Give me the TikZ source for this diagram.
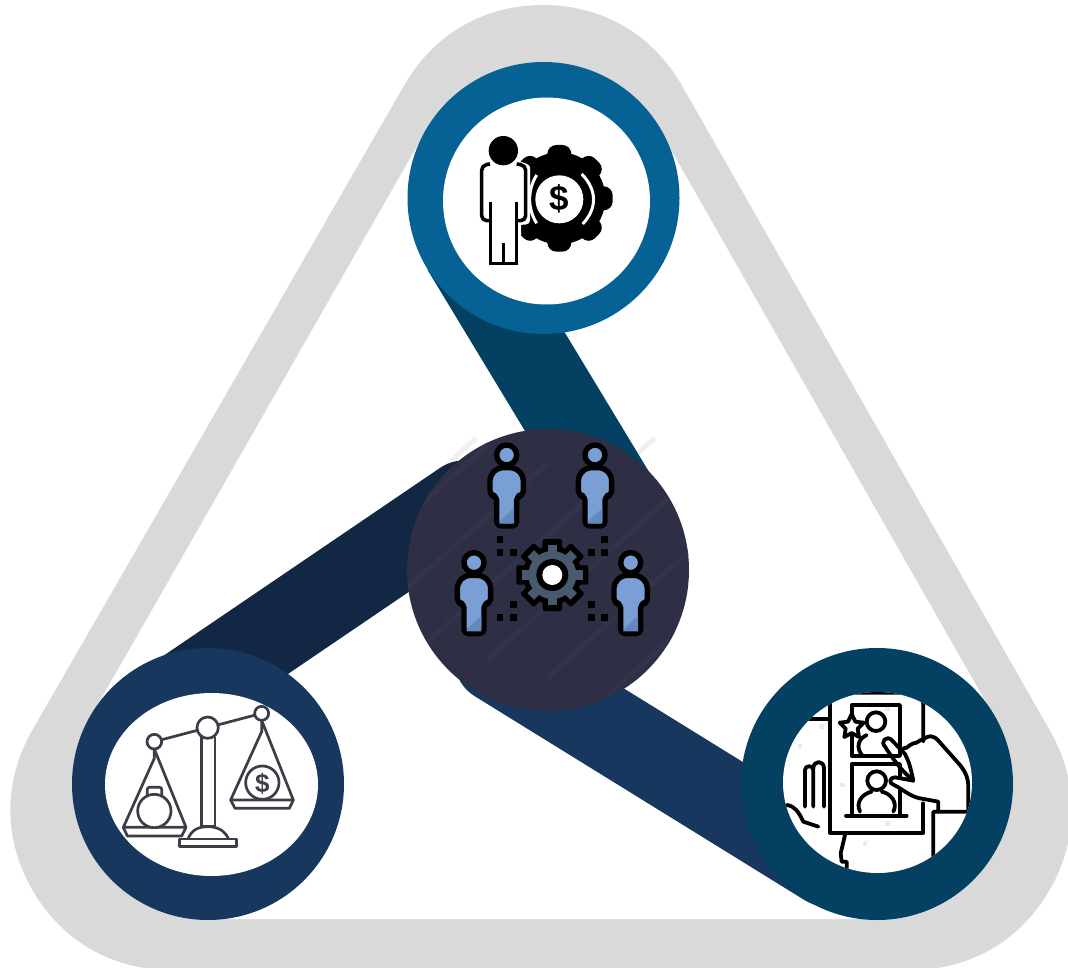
\documentclass[tikz,border=0pt]{standalone}
\usepackage{fontspec}
\setmainfont{Liberation Sans}
\definecolor{graybelt}{HTML}{D9D9D9}
\definecolor{ringtop}{HTML}{066295}
\definecolor{ringleft}{HTML}{17375E}
\definecolor{ringright}{HTML}{044062}
\definecolor{barleft}{HTML}{112744}
\definecolor{hub}{HTML}{2E2E44}
\definecolor{hubstripe}{HTML}{333349}
\definecolor{pblue}{HTML}{7A9FD4}
\definecolor{pblued}{HTML}{6388BC}
\definecolor{geargray}{HTML}{4A5A6E}
\definecolor{scaleink}{HTML}{3F3C47}
\tikzset{
  ring/.style={circle,inner sep=0pt,minimum size=272pt,fill=#1},
  barline/.style={line width=85pt,draw=#1},
  zoomed/.style={x=0.33333pt,y=-0.33333pt},
  personline/.style={draw=black,line width=5.4pt,fill=pblue,rounded corners=4.5pt,line join=round},
  scaleline/.style={draw=scaleink,line width=2.7pt,line join=round},
  phoneline/.style={draw=black,line width=3.8pt,line join=round,line cap=round},
  wm/.style={fill=black!8}
}
\begin{document}
\begin{tikzpicture}[x=1pt,y=-1pt]
\useasboundingbox (0,0) rectangle (1068,968);
\clip (0,0) rectangle (1068,968);
\fill[white] (0,0) rectangle (1068,968);
% belt
\draw[graybelt,fill=graybelt,line width=320pt,line join=round] (543,165) -- (171,810) -- (911,810) -- cycle;
\draw[white,fill=white,line width=270pt,line join=round] (543,198) -- (208,784) -- (877,784) -- cycle;
% faint streaks
\draw[black!6,line width=5pt] (450,462) -- (476,438);
\draw[black!6,line width=5pt] (628,462) -- (655,438);
% named ends of the bars
\coordinate (topend) at (464,248);
\coordinate (tophub) at (620,506);
\coordinate (leftend) at (174,700);
\coordinate (lefthub) at (464,503);
\coordinate (rightend) at (827,864);
\coordinate (righthub) at (497,660);
\draw[barline=ringright] (topend) -- (tophub);
\draw[barline=barleft,line cap=round] (lefthub) -- (leftend);
\draw[barline=ringleft,line cap=round] (righthub) -- (rightend);
% rings
\node[ring=ringtop] (ntop) at (543.5,198) {};
\node[ring=ringleft] (nleft) at (208,784) {};
\node[ring=ringright] (nright) at (877,784) {};
\node[circle,inner sep=0pt,minimum size=282pt,fill=hub] (nhub) at (548,570) {};
\fill[white] (546.5,201) circle (103.5);
\fill[white] (211.5,784.5) ellipse (106.5 and 91.5);
\fill[white] (877.5,782.5) ellipse (94.5 and 90.5);
% hub stripes
\begin{scope}
\clip (548,570) circle (141);
\foreach \d in {-150,-90,-30,30,90,150}
  \draw[hubstripe,line width=5pt] (548+\d-90,570+\d*0.3+80) -- (548+\d+90,570+\d*0.3-80);
\end{scope}
% ---------- top icon
\begin{scope}[shift={(440,100)},zoomed]
  \fill[black] (358,295) circle (138);
  \foreach \a in {0,45,...,315}
    \fill[black,shift={(358,295)},rotate=\a,rounded corners=9pt] (100,-36) rectangle (160,36);
  \draw[white,line width=3pt] (425,222) .. controls (472,270) and (472,325) .. (428,372);
  \draw[white,line width=3pt] (290,225) .. controls (262,270) and (262,325) .. (290,370);
  \fill[white] (358,298) circle (72);
  \node[font=\bfseries\fontsize{35}{35}\selectfont,inner sep=0pt] (dollarone) at (358,296) {\$};
  \path[draw=white,fill=white,line width=9pt,line join=round] (150,195) -- (125,205) -- (125,360) -- (152,362) -- (152,490) -- (230,490) -- (230,362) -- (257,360) -- (257,205) -- (230,195) -- cycle;
  \draw[black,line width=3.6pt,line join=round,rounded corners=5pt] (150,192) -- (125,196) -- (125,362) -- (152,362);
  \draw[black,line width=3.6pt,line join=round,rounded corners=5pt] (230,192) -- (257,196) -- (257,362) -- (230,362);
  \draw[black,line width=3.6pt,line join=miter] (152,305) -- (152,490) -- (230,490) -- (230,305);
  \draw[black,line width=3.6pt] (190,430) -- (190,490);
  \fill[white] (190,152) circle (50);
  \fill[black] (190,152) circle (44);
\end{scope}
% ---------- hub icon
\begin{scope}[shift={(410,430)},zoomed]
  \foreach \hx/\hy in {290/75,555/75,192/398,662/398}{
    \begin{scope}[shift={(\hx,\hy)}]
      \draw[personline] (-26,38) -- (-50,62) -- (-50,122) -- (-30,122) -- (-30,213) -- (30,213) -- (30,122) -- (50,122) -- (50,62) -- (26,38) -- cycle;
      \fill[pblued] (-22,200) -- (22,160) -- (22,206) -- (-22,206) -- cycle;
      \draw[black,line width=5.4pt,fill=pblue] (0,0) circle (30);
    \end{scope}
  }
  \foreach \a in {0,45,...,315}
    \fill[black,shift={(427,435)},rotate=\a,rounded corners=2pt] (60,-29) rectangle (108,29);
  \fill[black] (427,435) circle (88);
  \foreach \a in {0,45,...,315}
    \fill[geargray,shift={(427,435)},rotate=\a] (60,-14) rectangle (91,14);
  \fill[geargray] (427,435) circle (72);
  \fill[black] (427,435) circle (48);
  \fill[white] (427,435) circle (30);
  \foreach \sx/\sy in {270/328,270/367,310/367,584/328,584/367,545/367,310/524,270/563,310/563,545/524,545/563,584/563}
    \fill[black] (\sx-10,\sy-10) rectangle (\sx+10,\sy+10);
\end{scope}
% ---------- scales icon
\begin{scope}[shift={(100,690)},zoomed]
  \draw[scaleline] (163,155) -- (485,70);
  \draw[scaleline,fill=white] (305,140) -- (305,410) -- (345,410) -- (345,140);
  \draw[scaleline,fill=white] (163,155) circle (22);
  \draw[scaleline,fill=white] (323,113) circle (32);
  \draw[scaleline,fill=white] (485,70) circle (21);
  \draw[scaleline] (265,445) .. controls (275,420) and (295,410) .. (323,410) .. controls (352,410) and (372,420) .. (385,445);
  \draw[scaleline,fill=white] (238,447) rectangle (410,470);
  \draw[scaleline] (163,177) -- (163,205) -- (70,412) -- (258,412) -- cycle;
  \draw[scaleline] (70,412) -- (82,438) -- (245,438) -- (258,412);
  \draw[scaleline,rounded corners=2pt] (142,318) -- (142,292) -- (185,292) -- (185,318);
  \draw[scaleline,fill=white] (163,363) circle (50);
  \draw[scaleline] (485,91) -- (485,125) -- (392,330) -- (580,330) -- cycle;
  \draw[scaleline] (392,330) -- (405,355) -- (568,355) -- (580,330);
  \draw[scaleline,fill=white] (487,278) circle (50);
  \node[text=scaleink,font=\bfseries\fontsize{26}{26}\selectfont,inner sep=0pt] (dollartwo) at (487,281) {\$};
\end{scope}
% ---------- phone icon
\begin{scope}
\clip (877.5,782.5) ellipse (94.5 and 90.5);
\begin{scope}[shift={(770,680)},zoomed]
  \foreach \wx/\wy in {90/198,218/315,352/430,352/85,480/198,155/140,285/490,415/320}
    \fill[wm] (\wx-7,\wy-7) rectangle (\wx+7,\wy+7);
  \draw[phoneline] (110,118) -- (180,118);
  \draw[phoneline] (180,30) -- (180,458) -- (460,458) -- (460,370);
  \draw[phoneline] (180,38) -- (430,38) .. controls (450,38) and (460,55) .. (460,80) -- (460,185);
  \draw[phoneline] (245,228) -- (245,75) -- (390,75) -- (390,228) -- cycle;
  \draw[phoneline] (245,405) -- (245,252) -- (390,252) -- (390,290);
  \draw[phoneline] (390,330) -- (390,405);
  \draw[phoneline] (228,407) -- (410,407);
  \draw[phoneline,fill=white] (318,125) circle (28);
  \draw[phoneline] (290,165) .. controls (262,178) and (258,205) .. (278,228);
  \draw[phoneline,fill=white] (245,102) -- (256,125) -- (281,128) -- (263,146) -- (267,171) -- (245,159) -- (223,171) -- (227,146) -- (209,128) -- (234,125) -- cycle;
  \draw[phoneline,fill=white] (320,302) circle (28);
  \draw[phoneline] (270,395) .. controls (255,365) and (280,340) .. (305,335);
  \draw[phoneline] (335,335) .. controls (360,340) and (385,365) .. (370,395);
  \fill[white] (340,195) -- (362,175) -- (405,225) -- (432,302) -- (372,315) -- (430,345) -- (505,365) -- (595,320) -- (570,255) -- (500,180) -- (400,205) -- cycle;
  \draw[phoneline] (345,200) .. controls (330,185) and (350,165) .. (365,180) -- (405,222) .. controls (420,250) and (425,280) .. (430,302) .. controls (410,285) and (385,262) .. cycle;
  \draw[phoneline] (430,302) -- (375,292) .. controls (358,292) and (355,310) .. (372,315) .. controls (395,325) and (420,350) .. (450,355) -- (505,365) -- (505,395) -- (490,395) -- (490,530);
  \draw[phoneline] (400,205) .. controls (415,205) and (415,195) .. (430,190) .. controls (445,190) and (445,180) .. (460,178) .. controls (475,165) and (490,165) .. (505,182) -- (570,255) .. controls (590,280) and (595,300) .. (595,320) -- (595,395) -- (505,395);
  \draw[phoneline] (105,380) -- (105,270) .. controls (105,255) and (130,255) .. (130,270) -- (130,380);
  \draw[phoneline] (130,265) .. controls (130,240) and (162,240) .. (162,265) -- (162,380);
  \draw[phoneline] (50,375) .. controls (75,378) and (85,395) .. (100,425) -- (145,440);
  \draw[phoneline] (225,465) -- (212,520) -- (215,545) -- (230,545) -- (230,580);
\end{scope}
\end{scope}
\end{tikzpicture}
\end{document}
